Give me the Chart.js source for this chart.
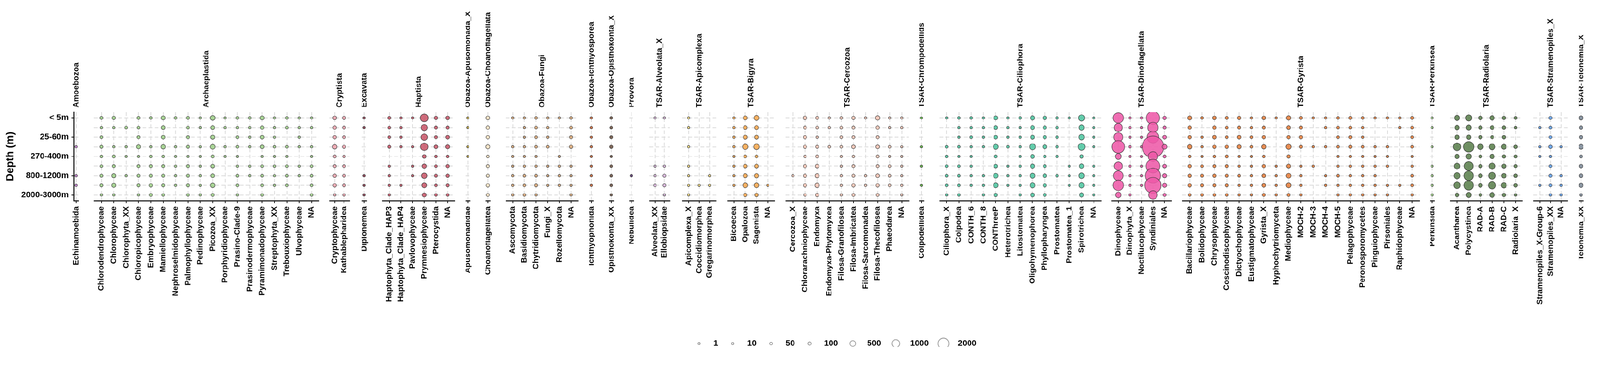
<!DOCTYPE html>
<html lang="en">
<head>
  <meta charset="UTF-8" />
  <title>Classes by depth</title>
  <style>
    html, body {
      margin: 0;
      background: #ffffff;
      overflow: hidden;
    }
    #plot {
      position: relative;
      width: 4224px;
      height: 960px;
      transform-origin: 0 0;
    }
    .facet {
      position: absolute;
      top: 0;
      height: 960px;
    }
    #legend {
      position: absolute;
      left: 1748px;
      top: 884px;
      width: 900px;
      height: 64px;
    }
  </style>
</head>
<body>
  <div id="plot"></div>
  <script src="https://cdn.jsdelivr.net/npm/chart.js"></script>
  <script>
    const _ = null; // no reads at that depth

    const DEPTHS = ['< 5m', '5-25m', '25-60m', '60-270m', '270-400m', '400-800m', '800-1200m', '1200-2000m', '2000-3000m'];
    const LEGEND_BREAKS = [1, 10, 50, 100, 500, 1000, 2000];

    const FACETS = ['Amoebozoa', 'Archaeplastida', 'Cryptista', 'Excavata', 'Haptista',
      'Obazoa-Apusomonada_X', 'Obazoa-Choanoflagellata', 'Obazoa-Fungi', 'Obazoa-Ichthyosporea',
      'Obazoa-Opisthokonta_X', 'Provora', 'TSAR-Alveolata_X', 'TSAR-Apicomplexa', 'TSAR-Bigyra',
      'TSAR-Cercozoa', 'TSAR-Chrompodellids', 'TSAR-Ciliophora', 'TSAR-Dinoflagellata', 'TSAR-Gyrista',
      'TSAR-Perkinsea', 'TSAR-Radiolaria', 'TSAR-Stramenopiles_X', 'TSAR-Telonemia_X'];

    // one row per class, one value per depth (top to bottom)
    const amoebozoa = ['Echinamoebida'];
    const amoebozoaCounts = [[_, _, _, 15, _, _, 15, 15, _]];

    const archaeplastida = ['Chlorodendrophyceae', 'Chlorophyceae', 'Chlorophyta_XX', 'Chloropicophyceae',
      'Embryophyceae', 'Mamiellophyceae', 'Nephroselmidophyceae', 'Palmophyllophyceae', 'Pedinophyceae',
      'Picozoa_XX', 'Porphyridiophyceae', 'Prasino-Clade-9', 'Prasinodermophyceae', 'Pyramimonadophyceae',
      'Streptophyta_XX', 'Trebouxiophyceae', 'Ulvophyceae', 'NA'];
    const archaeplastidaCounts = [
      [85, 15, 50, 85, 50, 50, 85, 85, 15],
      [125, 15, _, 15, 85, 85, 220, 220, 15],
      [_, 50, _, 15, 15, _, 15, _, _],
      [85, 50, 85, 220, 15, 85, 85, 85, 15],
      [50, _, _, 15, 50, 85, 85, 125, 85],
      [220, 170, 170, 270, 50, 85, 85, 85, 50],
      [50, _, _, 15, 15, 15, 15, 15, _],
      [85, 50, 85, 85, 15, 85, 85, 85, 50],
      [5, 5, _, 5, 5, 5, 15, 5, 15],
      [330, 170, 220, 330, 85, 170, 170, 270, 85],
      [5, 15, _, 15, 15, _, _, _, _],
      [50, 15, 50, 50, 5, 15, 50, 50, 15],
      [50, 15, 15, 15, _, 15, 15, _, _],
      [220, 125, 170, 170, 15, 50, 50, 50, 50],
      [10, 10, 10, 30, 10, 30, 10, 10, _],
      [50, 50, _, 50, 15, 50, 50, 50, _],
      [15, 15, 15, 15, _, 15, 15, _, _],
      [15, 15, _, 15, 15, 50, 50, 50, 50]
    ];

    const cryptista = ['Cryptophyceae', 'Kathablepharidea'];
    const cryptistaCounts = [
      [170, 125, 125, 270, 85, 85, 125, 125, 15],
      [125, 85, 85, 125, 50, 85, 85, 85, 50]
    ];

    const excavata = ['Diplonemea'];
    const excavataCounts = [[5, 5, _, _, _, _, 15, 5, 5]];

    const haptista = ['Haptophyta_Clade_HAP3', 'Haptophyta_Clade_HAP4', 'Pavlovophyceae', 'Prymnesiophyceae', 'Pterocystida', 'NA'];
    const haptistaCounts = [
      [85, 50, 50, 85, _, 15, 15, 15, 15],
      [15, 15, 15, 15, _, _, _, 5, _],
      [5, _, _, 5, _, 5, 5, _, _],
      [1000, 590, 650, 900, 170, 270, 450, 330, 220],
      [125, 85, 85, 170, 50, 50, 85, 50, 50],
      [170, 85, 170, 220, 50, 125, 125, 85, 50]
    ];

    const apusomonada = ['Apusomonadidae'];
    const apusomonadaCounts = [[15, 5, _, 5, 5, _, _, _, _]];

    const choanoflagellata = ['Choanoflagellatea'];
    const choanoflagellataCounts = [[170, 125, 125, 220, 50, 85, 85, 125, 85]];

    const fungi = ['Ascomycota', 'Basidiomycota', 'Chytridiomycota', 'Fungi_X', 'Rozellomycota', 'NA'];
    const fungiCounts = [
      [15, _, _, 15, 15, 5, 15, 15, 15],
      [15, 5, 5, 15, 15, 15, 50, 50, 50],
      [50, 50, 50, 50, 15, 15, 50, 85, 15],
      [15, 15, 15, 50, _, 5, 5, 5, _],
      [5, _, _, _, 5, 15, 15, 15, _],
      [50, 50, 85, 125, _, 5, 5, 5, 15]
    ];

    const ichthyosporea = ['Ichthyophonida'];
    const ichthyosporeaCounts = [[15, 15, 10, 15, 15, 10, 15, 15, _]];

    const opisthokonta = ['Opisthokonta_XX'];
    const opisthokontaCounts = [[50, 50, 85, 125, 15, 50, 50, 50, 15]];

    const provora = ['Nebulidea'];
    const provoraCounts = [[_, _, _, _, _, _, 30, _, _]];

    const alveolata = ['Alveolata_XX', 'Ellobiopsidae'];
    const alveolataCounts = [
      [5, _, _, _, _, 5, 15, 50, _],
      [5, _, _, _, _, 15, 85, 85, 5]
    ];

    const apicomplexa = ['Apicomplexa_X', 'Coccidiomorphea', 'Gregarinomorphea'];
    const apicomplexaCounts = [
      [5, 5, _, 10, _, 5, 5, 5, 5],
      [_, _, _, _, _, _, _, 5, _],
      [_, _, _, _, _, _, 5, 5, _]
    ];

    const bigyra = ['Bicoecea', 'Opalozoa', 'Sagenista', 'NA'];
    const bigyraCounts = [
      [15, 15, 15, 15, 5, 5, 5, 5, _],
      [220, 170, 220, 450, 85, 170, 220, 330, 125],
      [390, 220, 220, 510, 85, 220, 270, 330, 170],
      [_, _, _, _, _, _, _, 5, _]
    ];

    const cercozoa = ['Cercozoa_X', 'Chlorarachniophyceae', 'Endomyxa', 'Endomyxa-Phytomyxea', 'Filosa-Granofilosea',
      'Filosa-Imbricatea', 'Filosa-Sarcomonadea', 'Filosa-Thecofilosea', 'Phaeodarea', 'NA'];
    const cercozoaCounts = [
      [_, _, _, _, _, _, 15, _, _],
      [170, 85, 125, 125, 50, 125, 125, 125, 50],
      [85, 50, 15, 85, 85, 170, 220, 270, 125],
      [15, 15, _, 50, _, _, _, _, _],
      [50, 50, 50, 50, 15, 5, 15, 15, 15],
      [125, 85, 85, 170, 50, 85, 85, 125, 85],
      [5, _, _, _, _, _, 15, 15, _],
      [270, 125, 85, 170, 85, 85, 170, 125, 85],
      [5, 5, _, 50, 5, 50, 50, 50, _],
      [15, 15, _, 5, 5, 5, 5, 15, 5]
    ];

    const chrompodellids = ['Colpodellidea'];
    const chrompodellidsCounts = [[2, _, _, 5, _, 5, _, 2, _]];

    const ciliophora = ['Ciliophora_X', 'Colpodea', 'CONTH_6', 'CONTH_8', 'CONThreeP', 'Heterotrichea', 'Litostomatea',
      'Oligohymenophorea', 'Phyllopharyngea', 'Prostomatea', 'Prostomatea_1', 'Spirotrichea', 'NA'];
    const ciliophoraCounts = [
      [15, _, _, 50, 50, 50, 50, 50, 15],
      [50, 15, 15, 50, 15, 50, 50, 50, 50],
      [50, 15, 50, 15, 15, 15, 15, 15, _],
      [15, 15, 15, 15, _, _, 15, 15, 15],
      [220, 170, 170, 390, 85, 170, 330, 330, 125],
      [15, 15, 15, 50, _, 5, 15, 5, _],
      [50, 5, 15, 15, 15, 15, 15, 5, 15],
      [270, 220, 220, 590, 220, 270, 390, 390, 220],
      [170, 125, 125, 220, 50, 85, 170, 125, 85],
      [50, 50, 50, 50, 50, _, 50, _, _],
      [5, _, _, _, _, 5, 5, 5, _],
      [650, 450, 510, 820, 170, 330, 510, 450, 270],
      [15, 15, 15, 15, _, 15, 15, 15, 15]
    ];

    const dinoflagellata = ['Dinophyceae', 'Dinophyta_X', 'Noctilucophyceae', 'Syndiniales', 'NA'];
    const dinoflagellataCounts = [
      [1850, 1130, 1390, 2710, 590, 1180, 1610, 1850, 520],
      [15, 15, 5, 30, 15, 15, 15, 15, 15],
      [15, 5, 5, 2, 2, 2, 5, 5, _],
      [2930, 1780, 2290, 7800, 1500, 3150, 3820, 4350, 1230],
      [125, 85, 170, 330, 85, 170, 220, 220, 85]
    ];

    const gyrista = ['Bacillariophyceae', 'Bolidophyceae', 'Chrysophyceae', 'Coscinodiscophyceae', 'Dictyochophyceae',
      'Eustigmatophyceae', 'Gyrista_X', 'Hyphochytriomyceta', 'Mediophyceae', 'MOCH-2', 'MOCH-3', 'MOCH-4', 'MOCH-5',
      'Pelagophyceae', 'Peronosporomycetes', 'Pinguiophyceae', 'Pirsoniales', 'Raphidophyceae', 'NA'];
    const gyristaCounts = [
      [220, 125, 125, 270, 50, 125, 125, 125, 50],
      [50, _, 15, 15, 5, 50, 85, 85, 50],
      [170, 125, 170, 125, 50, 85, 125, 85, 50],
      [85, 50, 50, 125, 85, 85, 85, 85, 50],
      [125, 85, 170, 220, 15, 15, 50, 15, 15],
      [15, 15, 50, 50, 5, 5, 15, 15, 5],
      [170, 85, 125, 270, 50, 125, 170, 170, 85],
      [5, _, _, _, _, 5, 15, 15, 15],
      [270, 170, 125, 390, 125, 220, 330, 330, 85],
      [85, 85, 125, 85, _, 5, 15, 15, 15],
      [15, _, _, 15, _, 15, _, _, _],
      [15, 15, _, 15, _, _, 5, 15, _],
      [50, 50, 50, 50, 15, 15, 50, 15, 15],
      [85, 50, 85, 85, 15, 15, 15, 15, 15],
      [50, 15, 15, 50, 15, 15, 15, 15, 15],
      [15, _, _, 15, 5, 15, 15, 15, 5],
      [15, _, _, 15, 5, 15, _, 5, 5],
      [5, 5, _, _, _, _, _, 5, _],
      [85, 50, 50, 50, 5, 15, 50, 50, 15]
    ];

    const perkinsea = ['Perkinsida'];
    const perkinseaCounts = [[5, 2, _, 2, _, 5, 20, 20, 20]];

    const radiolaria = ['Acantharea', 'Polycystinea', 'RAD-A', 'RAD-B', 'RAD-C', 'Radiolaria_X'];
    const radiolariaCounts = [
      [420, 300, 300, 980, 300, 565, 640, 715, 190],
      [640, 420, 300, 1860, 490, 1390, 1500, 1500, 420],
      [190, 145, 145, 490, 100, 145, 190, 190, 65],
      [300, 190, 100, 565, 300, 640, 800, 890, 360],
      [145, 145, 145, 360, 145, 245, 300, 420, 145],
      [65, 25, _, 145, 100, 100, 145, 145, 25]
    ];

    const stramenopiles = ['Stramenopiles_X-Group-6', 'Stramenopiles_XX', 'NA'];
    const stramenopilesCounts = [
      [_, 5, _, 5, 5, _, _, 5, _],
      [100, 65, 65, 145, 25, 65, 100, 65, 25],
      [_, _, _, 5, _, _, 15, 15, 15]
    ];

    const telonemia = ['Telonemia_XX'];
    const telonemiaCounts = [[245, 145, 145, 360, 100, 190, 190, 245, 65]];

    const FACET_CLASSES = [amoebozoa, archaeplastida, cryptista, excavata, haptista, apusomonada, choanoflagellata,
      fungi, ichthyosporea, opisthokonta, provora, alveolata, apicomplexa, bigyra, cercozoa, chrompodellids,
      ciliophora, dinoflagellata, gyrista, perkinsea, radiolaria, stramenopiles, telonemia];
    const FACET_COUNTS = [amoebozoaCounts, archaeplastidaCounts, cryptistaCounts, excavataCounts, haptistaCounts,
      apusomonadaCounts, choanoflagellataCounts, fungiCounts, ichthyosporeaCounts, opisthokontaCounts, provoraCounts,
      alveolataCounts, apicomplexaCounts, bigyraCounts, cercozoaCounts, chrompodellidsCounts, ciliophoraCounts,
      dinoflagellataCounts, gyristaCounts, perkinseaCounts, radiolariaCounts, stramenopilesCounts, telonemiaCounts];

    const FACET_COLORS = ['#c77fd4', '#9fd08a', '#eda3ad', '#8e3b4e', '#c8586a', '#bfa53c', '#f5e2c4', '#dba878',
      '#d2693a', '#6f5545', '#5e3a78', '#dcb6de', '#f9df7e', '#f8a94f', '#f4c5b5', '#5fbd3f', '#4ec6a0', '#ee5aa8',
      '#e6803e', '#96c97e', '#5b7f4d', '#5fa0f2', '#7e8b99'];

    // layout
    const PAGE_W = 4224;
    const PAGE_H = 960;
    const UNIT = 33.4;
    const GAP = 13;
    const AXIS_LEFT = 195;
    const PANEL_TOP = 296;
    const AXIS_HEIGHT = 430;
    const FONT = '"Liberation Sans", Arial, sans-serif';
    const GRID = '#d9d9d9';

    Chart.defaults.font.family = FONT;
    Chart.defaults.color = '#000';

    const plot = document.getElementById('plot');
    // keep the whole figure inside the window, same factor both ways
    const fit = Math.min(window.innerWidth / PAGE_W, window.innerHeight / PAGE_H);
    if (Math.abs(fit - 1) > 0.001) {
      plot.style.transform = 'scale(' + fit + ')';
    }

    // size scale: circle area grows with the count
    function bubbleRadius(v) {
      return Math.sqrt(12.15 + 0.1064 * v) - 0.5;
    }

    const stripPlugin = {
      id: 'stripLabel',
      afterDraw(chart, args, opts) {
        const { ctx, chartArea } = chart;
        ctx.save();
        ctx.font = 'bold 21px ' + FONT;
        ctx.fillStyle = '#000';
        ctx.translate((chartArea.left + chartArea.right) / 2, chartArea.top - 12);
        ctx.rotate(-Math.PI / 2);
        ctx.textAlign = 'left';
        ctx.textBaseline = 'middle';
        ctx.fillText(opts.text, 0, 0);
        ctx.restore();
      }
    };

    let cursor = AXIS_LEFT;

    FACETS.forEach((facet, i) => {
      const classes = FACET_CLASSES[i];
      const counts = FACET_COUNTS[i];
      const first = i === 0;
      const panelW = (classes.length + 0.2) * UNIT;
      const box = document.createElement('div');
      box.className = 'facet';
      box.style.left = (first ? 0 : cursor) + 'px';
      box.style.width = (first ? AXIS_LEFT + panelW : panelW) + 'px';
      cursor += panelW + GAP;
      const canvas = document.createElement('canvas');
      box.appendChild(canvas);
      plot.appendChild(box);

      const points = [];
      counts.forEach((row, c) => {
        row.forEach((v, d) => {
          if (v !== null) points.push({ x: c, y: d, r: bubbleRadius(v) });
        });
      });

      new Chart(canvas, {
        type: 'bubble',
        data: {
          datasets: [{
            data: points,
            backgroundColor: FACET_COLORS[i] + 'e0',
            borderColor: '#333333',
            borderWidth: 1.2,
            clip: 0
          }]
        },
        options: {
          responsive: true,
          maintainAspectRatio: false,
          animation: false,
          events: [],
          layout: { autoPadding: false, padding: { top: PANEL_TOP, left: 0, right: 0, bottom: 0 } },
          plugins: {
            legend: { display: false },
            tooltip: { enabled: false },
            stripLabel: { text: facet }
          },
          scales: {
            x: {
              type: 'linear',
              min: -0.6,
              max: classes.length - 0.4,
              afterBuildTicks: s => { s.ticks = classes.map((c, k) => ({ value: k })); },
              afterFit: s => { s.height = AXIS_HEIGHT; },
              ticks: {
                autoSkip: false,
                minRotation: 90,
                maxRotation: 90,
                padding: 9,
                color: '#000',
                font: { size: 21, weight: 'bold' },
                callback: v => classes[v]
              },
              grid: { color: GRID, lineWidth: 2, tickLength: 6, tickColor: '#000', tickWidth: 2 },
              border: { display: true, color: '#000', width: 2.5, dash: [10, 6] }
            },
            y: {
              type: 'linear',
              reverse: true,
              min: -0.6,
              max: DEPTHS.length - 0.4,
              afterBuildTicks: s => { s.ticks = DEPTHS.map((d, k) => ({ value: k })); },
              afterFit: s => { s.width = first ? AXIS_LEFT : 0; },
              ticks: {
                display: first,
                padding: 8,
                color: '#000',
                font: { size: 22, weight: 'bold' },
                callback: v => DEPTHS[v]
              },
              grid: { color: GRID, lineWidth: 2, drawTicks: first, tickLength: 6, tickColor: '#000', tickWidth: 2 },
              border: { display: first, color: '#000', width: 2.5, dash: [10, 6] },
              title: {
                display: first,
                text: 'Depth (m)',
                color: '#000',
                font: { size: 28, weight: 'bold' },
                padding: { top: 10, bottom: 0 }
              }
            }
          }
        },
        plugins: [stripPlugin]
      });
    });

    // size legend
    function legendCircle(v) {
      const r = bubbleRadius(v);
      const size = Math.ceil(2 * r + 4);
      const c = document.createElement('canvas');
      c.width = size;
      c.height = size;
      const g = c.getContext('2d');
      g.strokeStyle = '#666666';
      g.lineWidth = 1.3;
      g.beginPath();
      g.arc(size / 2, size / 2, r, 0, Math.PI * 2);
      g.stroke();
      return c;
    }

    const legendBox = document.createElement('div');
    legendBox.id = 'legend';
    const legendCanvas = document.createElement('canvas');
    legendBox.appendChild(legendCanvas);
    plot.appendChild(legendBox);

    new Chart(legendCanvas, {
      type: 'bubble',
      data: { datasets: [] },
      options: {
        responsive: true,
        maintainAspectRatio: false,
        animation: false,
        events: [],
        scales: { x: { display: false }, y: { display: false } },
        plugins: {
          tooltip: { enabled: false },
          legend: {
            display: true,
            position: 'top',
            align: 'center',
            labels: {
              usePointStyle: true,
              pointStyleWidth: 54,
              padding: 12,
              color: '#000',
              font: { size: 22, weight: 'bold' },
              generateLabels: () => LEGEND_BREAKS.map(v => ({
                text: String(v),
                pointStyle: legendCircle(v),
                fillStyle: 'rgba(0,0,0,0)',
                strokeStyle: '#666666',
                lineWidth: 1,
                hidden: false
              }))
            }
          }
        }
      }
    });
  </script>
</body>
</html>
